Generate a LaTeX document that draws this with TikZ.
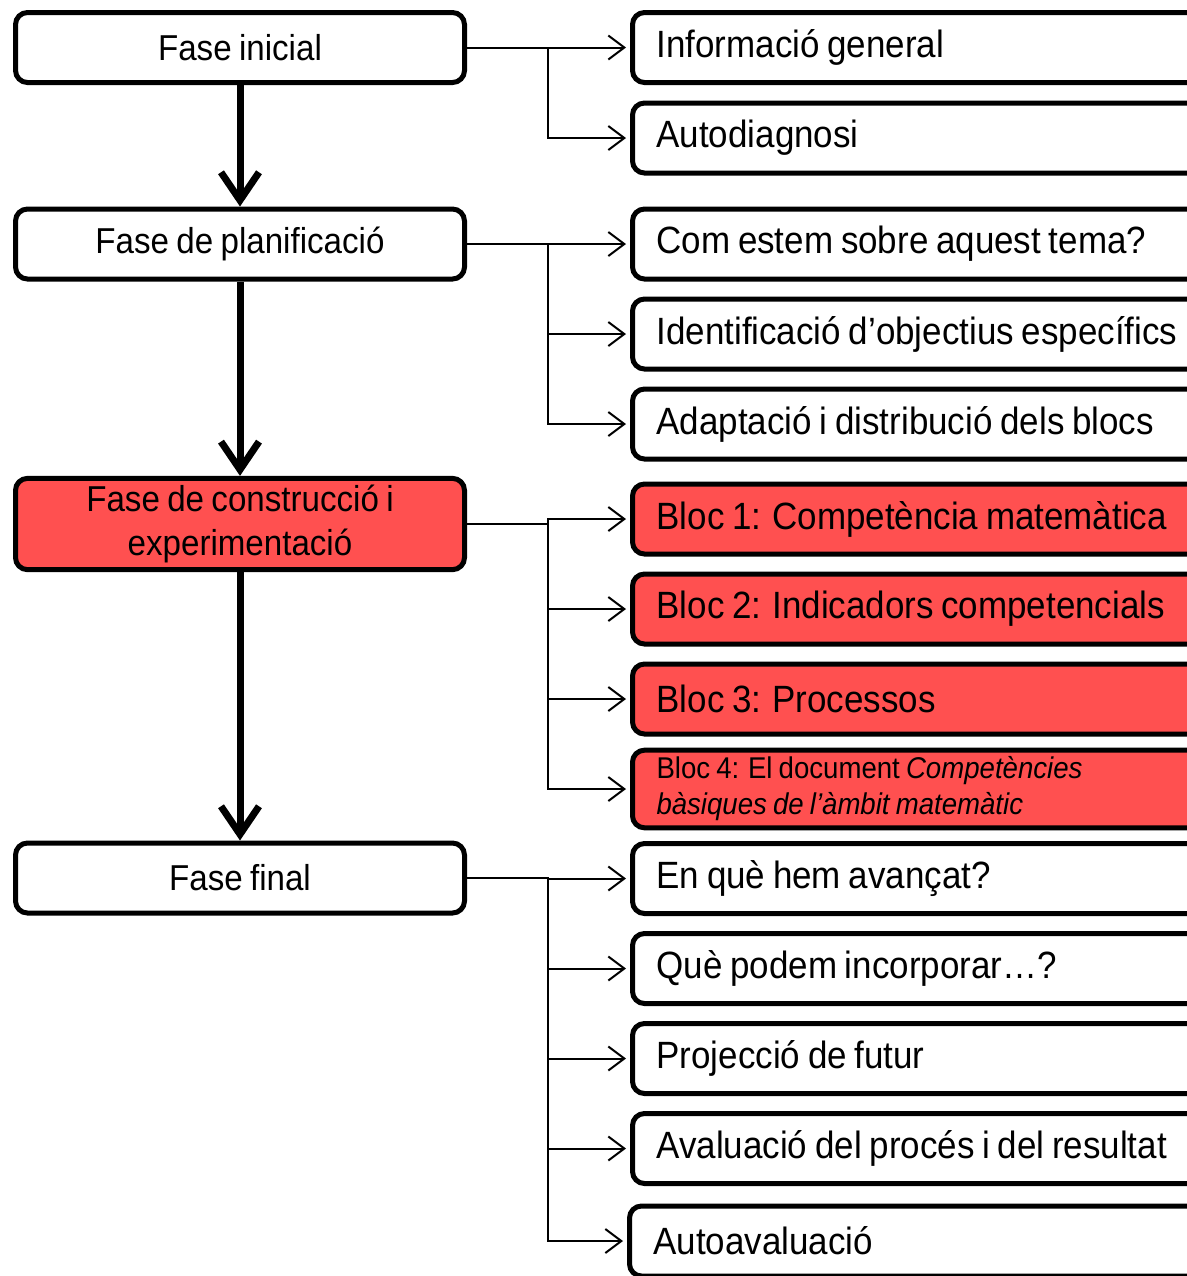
\documentclass[tikz,border=0pt]{standalone}
\usepackage{fontspec}
\setmainfont{Liberation Sans}[FakeStretch=0.92, WordSpace=0.8]
\usetikzlibrary{arrows.meta}
\definecolor{blocred}{RGB}{255,80,80}

\begin{document}
\begin{tikzpicture}[
			x=0.5pt, y=-0.5pt,
			fase/.style={draw, line width=2.5pt, rounded corners=6pt, minimum width=224.5pt, minimum height=35pt, align=center, font=\fontsize{18pt}{22pt}\selectfont},
			item/.style={draw, line width=2.5pt, rounded corners=6pt, anchor=west, text width=294pt, inner xsep=12pt, minimum height=35pt, align=flush left, font=\fontsize{19pt}{22pt}\selectfont},
			hot/.style={fill=blocred},
			flow/.style={line width=3.5pt, -{Straight Barb[length=14pt,width=19pt]}},
			link/.style={line width=1pt, -{Straight Barb[length=8pt,width=12pt]}, shorten >=2pt}
		]
		\useasboundingbox (0,0) rectangle (1187,1276);
		% fases
		\node[fase] (inicial) at (240,47.5) {Fase inicial};
		\node[fase] (planif) at (240,244) {Fase de planificació};
		\node[fase, hot, minimum height=43.5pt] (constr) at (240,524) {Fase de construcció i\\experimentació};
		\node[fase] (final) at (240,878) {Fase final};
		% items
		\node[item] (info) at (630,47.5) {Informació general};
		\node[item] (autodiag) at (630,138) {Autodiagnosi};
		\node[item] (com) at (630,244) {Com estem sobre aquest tema?};
		\node[item] (ident) at (630,334) {Identificació d’objectius específics};
		\node[item] (adapt) at (630,424) {Adaptació i distribució dels blocs};
		\node[item, hot] (bloc1) at (630,519) {Bloc 1: Competència matemàtica};
		\node[item, hot] (bloc2) at (630,609) {Bloc 2: Indicadors competencials};
		\node[item, hot] (bloc3) at (630,699) {Bloc 3: Processos};
		\node[item, hot, font=\fontsize{15pt}{18pt}\selectfont] (bloc4) at (630,789) {Bloc 4: El document \textit{Competències}\\\textit{bàsiques de l’àmbit matemàtic}};
		\node[item] (avanc) at (630,878.5) {En què hem avançat?};
		\node[item] (incorp) at (630,968.5) {Què podem incorporar…?};
		\node[item] (futur) at (630,1058.5) {Projecció de futur};
		\node[item] (aval) at (630,1148.5) {Avaluació del procés i del resultat};
		\node[item] (autoav) at (627,1241) {Autoavaluació};
		% fletxes
		\draw[flow] (inicial.south) -- (planif.north);
		\draw[flow] (planif.south) -- (constr.north);
		\draw[flow] (constr.south) -- (final.north);
		\foreach \c in {info,autodiag}
			\draw[link] (inicial.east) -- ++(81,0) |- (\c.west);
		\foreach \c in {com,ident,adapt}
			\draw[link] (planif.east) -- ++(81,0) |- (\c.west);
		\foreach \c in {bloc1,bloc2,bloc3,bloc4}
			\draw[link] (constr.east) -- ++(81,0) |- (\c.west);
		\foreach \c in {avanc,incorp,futur,aval,autoav}
			\draw[link] (final.east) -- ++(81,0) |- (\c.west);
	\end{tikzpicture}
\end{document}
